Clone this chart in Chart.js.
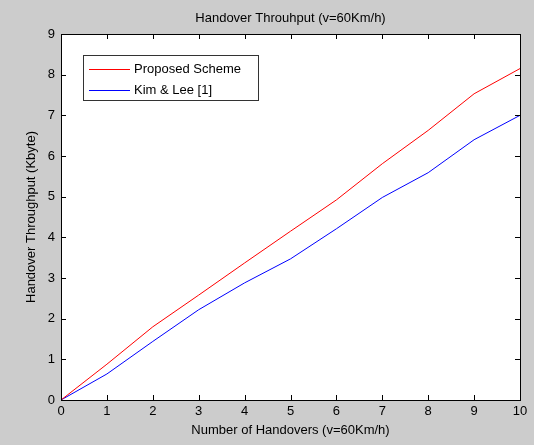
<!DOCTYPE html>
<html>
<head>
<meta charset="utf-8">
<script src="https://cdn.jsdelivr.net/npm/chart.js@4.4.1/dist/chart.umd.min.js"></script>
<style>
  html, body { margin: 0; padding: 0; background: #cccccc; }
  canvas { display: block; }
</style>
</head>
<body>
<canvas id="throughputChart" width="534" height="445"></canvas>
<script>
const ctx = document.getElementById('throughputChart').getContext('2d');

// Data
const handovers = [0, 1, 2, 3, 4, 5, 6, 7, 8, 9, 10];
const proposedScheme = [0, 0.88, 1.80, 2.58, 3.37, 4.15, 4.92, 5.81, 6.63, 7.53, 8.15];
const kimLee = [0, 0.64, 1.44, 2.22, 2.88, 3.47, 4.21, 4.98, 5.59, 6.40, 7.00];
const xTicks = [0, 1, 2, 3, 4, 5, 6, 7, 8, 9, 10];
const yTicks = [0, 1, 2, 3, 4, 5, 6, 7, 8, 9];
const chartTitle = 'Handover Throuhput (v=60Km/h)';

const FONT = 'Liberation Sans, Arial, Helvetica, sans-serif';

function toPoints(values) {
    return handovers.map((x, i) => ({ x: x, y: values[i] }));
}

// Matlab style: gray figure, white axes box, inward ticks on all sides, boxed legend
const matlabFrame = {
    id: 'matlabFrame',
    beforeDraw(chart) {
        const c = chart.ctx;
        const a = chart.chartArea;
        c.save();
        c.fillStyle = '#cccccc';
        c.fillRect(0, 0, chart.width, chart.height);
        c.fillStyle = '#ffffff';
        c.fillRect(a.left, a.top, a.right - a.left, a.bottom - a.top);
        // title centred over the axes, like Matlab
        c.fillStyle = '#000000';
        c.font = '13px ' + FONT;
        c.textAlign = 'center';
        c.textBaseline = 'middle';
        c.fillText(chartTitle, (a.left + a.right) / 2, 18.5);
        c.restore();
    },
    afterDatasetsDraw(chart) {
        const c = chart.ctx;
        const a = chart.chartArea;
        const xs = chart.scales.x;
        const ys = chart.scales.y;
        const len = 5;
        c.save();
        c.strokeStyle = '#000000';
        c.lineWidth = 1;
        c.beginPath();
        xTicks.forEach(v => {
            const px = Math.round(xs.getPixelForValue(v)) + 0.5;
            c.moveTo(px, a.bottom);
            c.lineTo(px, a.bottom - len);
            c.moveTo(px, a.top);
            c.lineTo(px, a.top + len);
        });
        yTicks.forEach(v => {
            const py = Math.round(ys.getPixelForValue(v)) + 0.5;
            c.moveTo(a.left, py);
            c.lineTo(a.left + len, py);
            c.moveTo(a.right, py);
            c.lineTo(a.right - len, py);
        });
        c.stroke();
        c.strokeRect(Math.round(a.left) + 0.5, Math.round(a.top) + 0.5,
            Math.round(a.right - a.left), Math.round(a.bottom - a.top));

        // legend
        const bx = 83.5, by = 55.5, bw = 175, bh = 45;
        c.fillStyle = '#ffffff';
        c.fillRect(bx, by, bw, bh);
        c.strokeStyle = '#333333';
        c.strokeRect(bx, by, bw, bh);
        c.font = '13px ' + FONT;
        c.textBaseline = 'middle';
        chart.data.datasets.forEach((ds, i) => {
            const y = 69.5 + i * 21;
            c.strokeStyle = ds.borderColor;
            c.beginPath();
            c.moveTo(89, y);
            c.lineTo(130, y);
            c.stroke();
            c.fillStyle = '#000000';
            c.fillText(ds.label, 134, y);
        });
        c.restore();
    }
};

new Chart(ctx, {
    type: 'line',
    data: {
        datasets: [{
            label: 'Proposed Scheme',
            data: toPoints(proposedScheme),
            borderColor: '#ff0000',
            borderWidth: 1,
            pointRadius: 0,
            tension: 0,
            fill: false
        }, {
            label: 'Kim & Lee [1]',
            data: toPoints(kimLee),
            borderColor: '#0000ff',
            borderWidth: 1,
            pointRadius: 0,
            tension: 0,
            fill: false
        }]
    },
    options: {
        responsive: false,
        animation: false,
        devicePixelRatio: 1,
        layout: { padding: { left: 0, right: 14, top: 34, bottom: 0 } },
        plugins: {
            legend: { display: false },
            tooltip: { enabled: false },
            title: { display: false }
        },
        scales: {
            x: {
                type: 'linear',
                min: 0,
                max: 10,
                afterFit(scale) { scale.height = 45; },
                afterBuildTicks(scale) { scale.ticks = xTicks.map(v => ({ value: v })); },
                grid: { display: false, drawTicks: false },
                border: { display: false },
                ticks: {
                    color: '#000000',
                    padding: 4,
                    maxRotation: 0,
                    autoSkip: false,
                    font: { family: FONT, size: 13 }
                },
                title: {
                    display: true,
                    text: 'Number of Handovers (v=60Km/h)',
                    color: '#000000',
                    font: { family: FONT, size: 13 },
                    padding: { top: 0, bottom: 7 }
                }
            },
            y: {
                min: 0,
                max: 9,
                afterFit(scale) { scale.width = 61; },
                afterBuildTicks(scale) { scale.ticks = yTicks.map(v => ({ value: v })); },
                grid: { display: false, drawTicks: false },
                border: { display: false },
                ticks: {
                    color: '#000000',
                    padding: 6,
                    autoSkip: false,
                    font: { family: FONT, size: 13 }
                },
                title: {
                    display: true,
                    text: 'Handover Throughput (Kbyte)',
                    color: '#000000',
                    font: { family: FONT, size: 13 },
                    padding: { top: 24, bottom: 0 }
                }
            }
        }
    },
    plugins: [matlabFrame]
});
</script>
</body>
</html>
